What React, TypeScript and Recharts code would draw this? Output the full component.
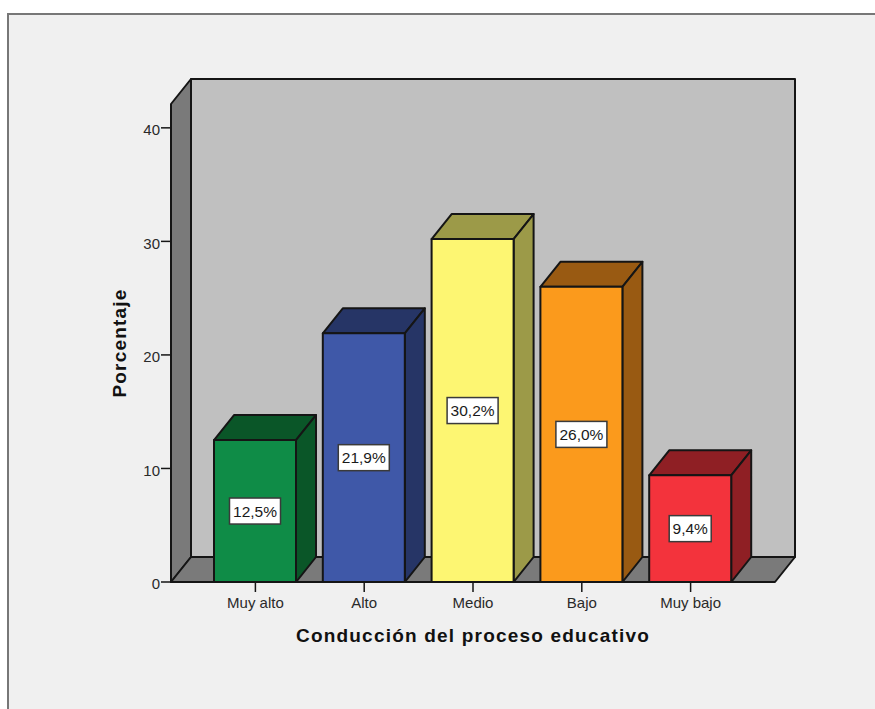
import React from "react";
import { BarChart, Bar, XAxis, YAxis, ReferenceArea, LabelList } from "recharts";

const categories = ["Muy alto", "Alto", "Medio", "Bajo", "Muy bajo"];
const percentages = [12.5, 21.9, 30.2, 26.0, 9.4];
const frontColors = ["#0f8c47", "#3f58a8", "#fdf672", "#fb9a1c", "#f3333c"];
const shadeColors = ["#0a5628", "#263566", "#9c9a48", "#995a12", "#8f1f24"];
const yTicks = [0, 10, 20, 30, 40];
const yMax = 42.1;

const rows = categories.map((name, i) => ({
  name,
  value: percentages[i],
  fill: frontColors[i],
  shade: shadeColors[i],
}));

const DX = 20;
const DY = 25;
const PAD = 30;
const LINE = "#151515";
const STROKE = 2;
const FONT = "'Liberation Sans', Arial, sans-serif";

const pts = (list: number[][]) => list.map((p) => p.join(",")).join(" ");

function Walls(props: any) {
  const { x: bandX, y, width: bandWidth, height } = props;
  const x = bandX - PAD;
  const width = bandWidth + PAD * 2;
  const b = y + height;
  const r = x + width;
  return (
    <g stroke={LINE} strokeWidth={STROKE} strokeLinejoin="round">
      <rect x={x + DX} y={y - DY} width={width} height={height} fill="#c0c0c0" />
      <polygon points={pts([[x, y], [x + DX, y - DY], [x + DX, b - DY], [x, b]])} fill="#7a7a7a" />
      <polygon points={pts([[x, b], [x + DX, b - DY], [r + DX, b - DY], [r, b]])} fill="#7a7a7a" />
    </g>
  );
}

function Bar3D(props: any) {
  const { x, y, width, height, fill, payload } = props;
  const r = x + width;
  const b = y + height;
  return (
    <g stroke={LINE} strokeWidth={STROKE} strokeLinejoin="round">
      <polygon points={pts([[x, y], [x + DX, y - DY], [r + DX, y - DY], [r, y]])} fill={payload.shade} />
      <polygon points={pts([[r, y], [r + DX, y - DY], [r + DX, b - DY], [r, b]])} fill={payload.shade} />
      <rect x={x} y={y} width={width} height={height} fill={fill} />
    </g>
  );
}

function ValueBox(props: any) {
  const { x, y, width, height, value } = props;
  const text = value.toFixed(1).replace(".", ",") + "%";
  const w = text.length === 4 ? 42 : 51;
  const h = 26;
  const cx = x + width / 2;
  const cy = y + height / 2;
  return (
    <g>
      <rect x={cx - w / 2} y={cy - h / 2} width={w} height={h} fill="#ffffff" stroke="#3a3a3a" strokeWidth={1.5} />
      <text x={cx} y={cy + 5.5} textAnchor="middle" fontSize={15.5} fontFamily={FONT} fill="#1a1a1a">
        {text}
      </text>
    </g>
  );
}

export default function App() {
  return (
    <div style={{ position: "fixed", left: 0, top: 0, width: 875, height: 709, overflow: "hidden", background: "#ffffff" }}>
      <div
        style={{
          position: "absolute",
          left: 7,
          top: 13,
          right: 0,
          bottom: 0,
          background: "#f0f0f0",
          borderLeft: "2px solid #777777",
          borderTop: "2px solid #777777",
        }}
      />
      <div style={{ position: "absolute", left: 0, top: 0 }}>
        <BarChart
          width={875}
          height={709}
          data={rows}
          margin={{ top: 104, right: 100, bottom: 67, left: 91 }}
          barCategoryGap={0}
        >
          <ReferenceArea y1={0} y2={yMax} shape={<Walls />} />
          <XAxis
            dataKey="name"
            padding={{ left: PAD, right: PAD }}
            height={60}
            tickSize={10}
            tickMargin={5}
            interval={0}
            axisLine={{ stroke: LINE, strokeWidth: STROKE }}
            tickLine={{ stroke: LINE, strokeWidth: 1.5 }}
            tick={{ fontSize: 15, fontFamily: FONT, fill: "#2a2a2a" }}
            label={{
              value: "Conducción del proceso educativo",
              position: "insideBottom",
              offset: 0,
              style: { fontSize: 19, fontWeight: 700, fontFamily: FONT, fill: "#111111", letterSpacing: 1.2 },
            }}
          />
          <YAxis
            width={80}
            domain={[0, yMax]}
            ticks={yTicks}
            allowDataOverflow
            tickSize={10}
            tickMargin={1}
            axisLine={{ stroke: LINE, strokeWidth: STROKE }}
            tickLine={{ stroke: LINE, strokeWidth: 1.5 }}
            tick={{ fontSize: 15, fontFamily: FONT, fill: "#2a2a2a", dy: 2 }}
            label={{
              value: "Porcentaje",
              angle: -90,
              position: "insideLeft",
              offset: 28,
              style: { fontSize: 19, fontWeight: 700, fontFamily: FONT, fill: "#111111", letterSpacing: 1.2, textAnchor: "middle" },
            }}
          />
          <Bar dataKey="value" barSize={82} isAnimationActive={false} shape={<Bar3D />}>
            <LabelList dataKey="value" content={<ValueBox />} />
          </Bar>
        </BarChart>
      </div>
    </div>
  );
}
